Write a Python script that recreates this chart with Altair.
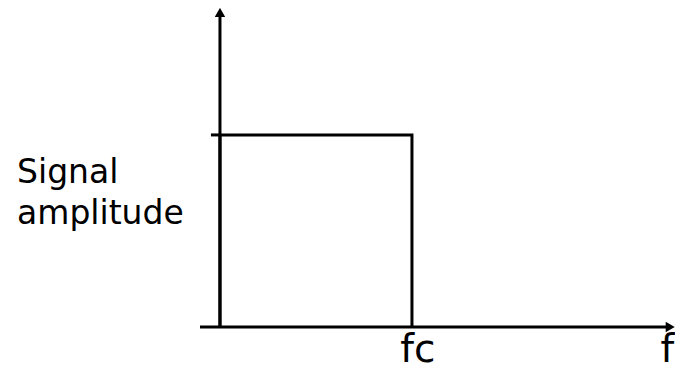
import altair as alt
import pandas as pd

# ---- data (in diagram units: frequency f, amplitude a) ----
fc = 1.0
pass_amp = 1.0
rect_f = [0, 0, fc, fc]
rect_a = [0, pass_amp, pass_amp, 0]
xaxis_f = [-0.104, 2.345]
xaxis_a = [0, 0]
yaxis_f = [0, 0]
yaxis_a = [0, 1.62]
tick_f = [-0.047, 0]
tick_a = [pass_amp, pass_amp]
arrow_f = [0, 2.345]
arrow_a = [1.638, 0]
arrow_shape = ["triangle-up", "triangle-right"]
xlabel_text = ["fc", "f"]
xlabel_f = [1.031, 2.366]
xlabel_a = [-0.182, -0.182]
ylabel_text = ["Signal", "amplitude"]
ylabel_f = [-1.057, -1.057]
ylabel_a = [0.75, 0.536]

X_DOMAIN = [-1.104, 2.370]
Y_DOMAIN = [-0.2708, 1.661]
W, H = 667, 371

xs = alt.Scale(domain=X_DOMAIN, nice=False, zero=False)
ys = alt.Scale(domain=Y_DOMAIN, nice=False, zero=False)


def path(fs, as_):
    df = pd.DataFrame({"f": fs, "a": as_, "i": list(range(len(fs)))})
    return alt.Chart(df).mark_line(color="black", strokeWidth=3, strokeCap="butt").encode(
        x=alt.X("f:Q", scale=xs, axis=None),
        y=alt.Y("a:Q", scale=ys, axis=None),
        order="i:O",
    )


rect = path(rect_f, rect_a)
xaxis = path(xaxis_f, xaxis_a)
yaxis = path(yaxis_f, yaxis_a)
tick = path(tick_f, tick_a)

arrows = alt.Chart(pd.DataFrame({"f": arrow_f, "a": arrow_a, "s": arrow_shape})).mark_point(
    filled=True, color="black", size=110, opacity=1
).encode(
    x=alt.X("f:Q", scale=xs, axis=None),
    y=alt.Y("a:Q", scale=ys, axis=None),
    shape=alt.Shape("s:N", scale=None, legend=None),
)

font = "Comic Sans MS, DejaVu Sans"

xlabel_df = pd.DataFrame({"f": xlabel_f, "a": xlabel_a, "t": xlabel_text})
xlabel_fc = alt.Chart(xlabel_df.iloc[[0]]).mark_text(
    font=font, fontSize=39, color="black", align="center", baseline="alphabetic"
).encode(
    x=alt.X("f:Q", scale=xs, axis=None),
    y=alt.Y("a:Q", scale=ys, axis=None),
    text="t:N",
)
xlabel_f_chart = alt.Chart(xlabel_df.iloc[[1]]).mark_text(
    font=font, fontSize=39, color="black", align="right", baseline="alphabetic"
).encode(
    x=alt.X("f:Q", scale=xs, axis=None),
    y=alt.Y("a:Q", scale=ys, axis=None),
    text="t:N",
)

ylabels = alt.Chart(pd.DataFrame({"f": ylabel_f, "a": ylabel_a, "t": ylabel_text})).mark_text(
    font=font, fontSize=33, color="black", align="left", baseline="alphabetic"
).encode(
    x=alt.X("f:Q", scale=xs, axis=None),
    y=alt.Y("a:Q", scale=ys, axis=None),
    text="t:N",
)

chart = alt.layer(rect, xaxis, yaxis, tick, arrows, xlabel_fc, xlabel_f_chart, ylabels).properties(
    width=W, height=H, autosize=alt.AutoSizeParams(type="none"), padding=0
).configure(background="white").configure_view(stroke=None, strokeWidth=0)

chart.save("out.html", embed_options={"renderer": "svg", "actions": False})
